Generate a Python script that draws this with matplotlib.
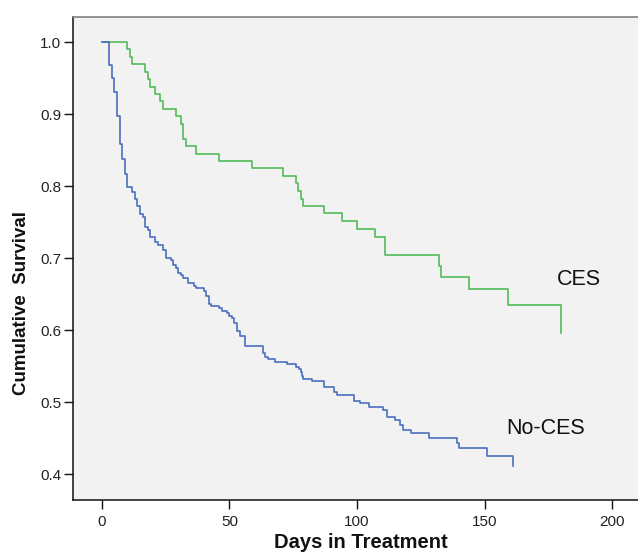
import numpy as np
import matplotlib
matplotlib.use('Agg')
import matplotlib.pyplot as plt

plt.rcParams['font.family'] = ['Liberation Sans', 'DejaVu Sans']

# Kaplan-Meier step data (time in days, survival after each drop)
ces_days = [0, 10, 11, 12, 17, 18, 19, 21, 23, 24, 29, 31, 32, 33, 37, 46, 59, 71,
            76, 77, 78, 79, 87, 94, 100, 107, 111, 132, 133, 144, 159, 180]
ces_surv = [1.0, 0.990, 0.980, 0.970, 0.959, 0.949, 0.938, 0.928, 0.918, 0.908, 0.897,
            0.887, 0.866, 0.856, 0.845, 0.835, 0.825, 0.814, 0.804, 0.794, 0.783, 0.773,
            0.763, 0.752, 0.741, 0.729, 0.704, 0.689, 0.674, 0.658, 0.635, 0.596]

noces_days = [0, 3, 4, 5, 6, 7, 8, 9, 10, 12, 13, 14, 15, 16, 17, 18, 19, 21, 22, 24,
              25, 27, 28, 29, 30, 31, 32, 34, 36, 37, 40, 41, 42, 43, 46, 47, 49, 50,
              51, 52, 53, 54, 56, 63, 64, 65, 68, 72.6, 76.1, 77.4, 77.9, 78.4, 78.9,
              82.2, 87, 90.9, 92, 98.8, 101.1, 104.8, 110, 111.8, 115, 116.8, 118.1,
              121, 128, 139, 140, 151, 161]
noces_surv = [1.0, 0.969, 0.951, 0.931, 0.898, 0.859, 0.838, 0.817, 0.799, 0.7925,
              0.782, 0.772, 0.761, 0.758, 0.743, 0.739, 0.729, 0.722, 0.718, 0.712,
              0.701, 0.698, 0.690, 0.687, 0.680, 0.677, 0.673, 0.666, 0.662, 0.659,
              0.655, 0.648, 0.637, 0.634, 0.631, 0.627, 0.624, 0.620, 0.617, 0.610,
              0.599, 0.592, 0.578, 0.568, 0.563, 0.560, 0.556, 0.553, 0.549, 0.546,
              0.542, 0.536, 0.532, 0.529, 0.521, 0.514, 0.510, 0.502, 0.499, 0.494,
              0.489, 0.479, 0.475, 0.468, 0.462, 0.458, 0.450, 0.444, 0.437, 0.425,
              0.412]

xticks = [0, 50, 100, 150, 200]
yticks = [0.4, 0.5, 0.6, 0.7, 0.8, 0.9, 1.0]

W, H = 638, 554
fig = plt.figure(figsize=(W / 100, H / 100), dpi=100)
ax = fig.add_axes([73.3 / W, (H - 499.5) / H, 1 - 73.3 / W, (499.5 - 17.3) / H])
ax.set_facecolor('#f2f2f2')

ax.step(ces_days, ces_surv, where='post', color='#52bb5a', lw=1.2)
ax.step(noces_days, noces_surv, where='post', color='#4a6ec0', lw=1.2)

ax.text(178.2, 0.670, 'CES', fontsize=15.5, va='center', ha='left', color='#111111')
ax.text(158.3, 0.463, 'No-CES', fontsize=15.5, va='center', ha='left', color='#111111')

ax.set_xlim(-11.1, 210)
ax.set_ylim(0.365, 1.0347)
ax.set_xticks(xticks)
ax.set_yticks(yticks)
ax.set_yticklabels(['%.1f' % v for v in yticks])
ax.tick_params(axis='both', direction='out', length=6.5, width=1.0,
               labelsize=11, labelcolor='#222222', color='#111111')
ax.tick_params(axis='y', pad=2)
ax.tick_params(axis='x', pad=5)

for side in ['left', 'bottom']:
    ax.spines[side].set_color('#111111')
    ax.spines[side].set_linewidth(1.1)
ax.spines['top'].set_color('#808080')
ax.spines['top'].set_linewidth(1.2)
ax.spines['right'].set_visible(False)

fig.text(361 / W, 6 / H, 'Days in Treatment', fontsize=14.5, fontweight='bold',
         ha='center', va='baseline', color='#111111')
fig.text(22 / W, 1 - 303 / H, 'Cumulative  Survival', fontsize=13.5, fontweight='bold',
         rotation=90, ha='center', va='center', color='#111111')

fig.savefig('out.png', dpi=100)
